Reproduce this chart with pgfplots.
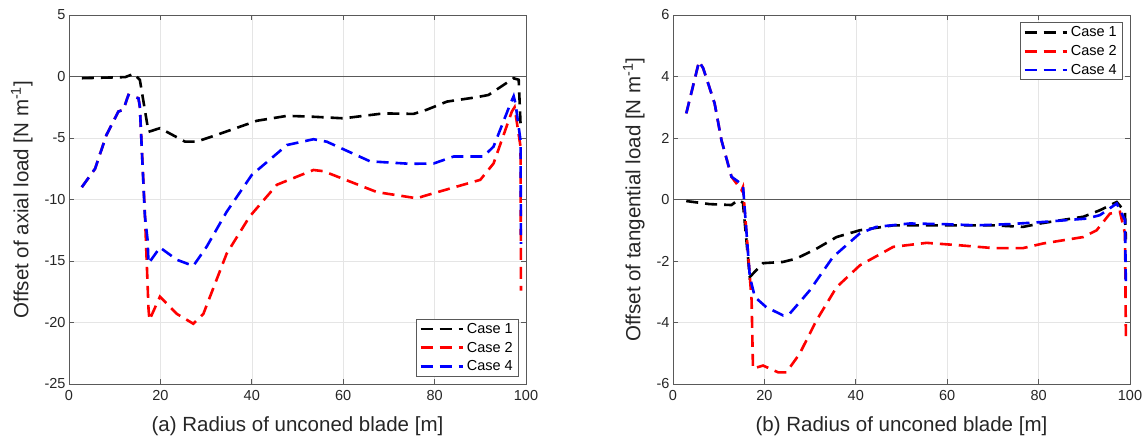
\documentclass[border=0pt]{standalone}
\usepackage{fontspec}
\setmainfont{Liberation Sans}
\usepackage{pgfplots}
\pgfplotsset{compat=1.18}
\begin{document}
\begin{tikzpicture}
\useasboundingbox (0pt,0pt) rectangle (1146pt,437pt);
\pgfplotsset{
 mystyle/.style={
  scale only axis, width=457pt, height=369pt, xmin=0, xmax=100,
  xtick={0,20,...,100}, grid=major,
  major grid style={color=black!10, line width=0.6pt},
  axis line style={color=black!65, line width=0.8pt},
  tick style={color=black!65, line width=0.8pt},
  tick align=inside, major tick length=5pt,
  ticklabel style={font=\fontsize{14.5}{16}\selectfont, text=black!85},
  xticklabel style={yshift=-3pt},
  /pgf/number format/assume math mode=true,
  label style={font=\fontsize{20.5}{24}\selectfont, text=black!85},
  legend style={font=\fontsize{14.5}{16}\selectfont, draw=black!65, line width=0.8pt, row sep=5pt, inner sep=3pt,
    nodes={inner xsep=3pt, inner ysep=1pt}},
  legend cell align=left,
  legend image code/.code={\draw[#1] (0pt,0pt) -- (42pt,0pt);},
  every axis plot/.append style={line width=2.6pt, dash pattern=on 12pt off 7pt},
  xlabel style={yshift=-9pt},
  ylabel shift=5pt,
 }
}
\begin{axis}[mystyle, at={(69pt,53pt)}, anchor=south west,
  ymin=-25, ymax=5, ytick={-25,-20,...,5},
  xlabel={(a) Radius of unconed blade [m]},
  ylabel={Offset of axial load [N m\textsuperscript{-1}]},
  legend style={at={(0.985,0.02)}, anchor=south east}]
\addplot[black!65, line width=0.8pt, solid, forget plot] coordinates {(0,0)(100,0)};
\addplot[black] coordinates {(2.8,-0.14)(12.3,-0.05)(14.2,0.22)(15.5,-0.27)(17.4,-4.5)(19.9,-4.2)(25.4,-5.3)(27.9,-5.3)(32.3,-4.75)(41.1,-3.6)(47.7,-3.2)(52.8,-3.26)(60.1,-3.4)(68.8,-3.0)(75.4,-3.04)(78.3,-2.7)(82.7,-2.04)(89.3,-1.68)(91.8,-1.5)(97.3,-0.14)(98.4,-0.27)(98.8,-3.8)};
\addplot[red] coordinates {(2.8,-9.0)(5.7,-7.5)(8.2,-4.75)(10.8,-2.85)(11.9,-2.7)(13,-1.5)(15.2,-1.77)(15.5,-2.45)(16.6,-11.1)(17.4,-18.9)(17.6,-19.8)(19.9,-17.9)(23.6,-19.3)(27.2,-20.1)(29.4,-19.3)(34.5,-14.4)(39.5,-11.4)(45.5,-8.8)(53.5,-7.6)(55.7,-7.7)(67.4,-9.4)(76.1,-9.9)(78.3,-9.65)(90,-8.4)(92.9,-7.07)(96.9,-2.85)(97.5,-2.5)(98.8,-5.7)(98.9,-17.4)};
\addplot[blue] coordinates {(2.8,-9.0)(5.7,-7.5)(8.2,-4.75)(10.8,-2.85)(11.9,-2.7)(13,-1.5)(15.2,-1.77)(15.5,-2.45)(16.6,-11.3)(17.2,-13.3)(17.4,-15.2)(19.9,-13.9)(23.6,-14.9)(27.2,-15.4)(30.1,-13.85)(34.5,-11.0)(40,-8.0)(47.7,-5.57)(53.5,-5.1)(56.4,-5.3)(65.9,-6.9)(74.7,-7.1)(79.8,-7.07)(84.2,-6.5)(90.7,-6.5)(92.9,-5.7)(96.6,-2.2)(97.3,-1.6)(97.7,-2.2)(98.8,-5.2)(98.9,-13.6)};
\legend{Case 1, Case 2, Case 4}
\end{axis}
\begin{axis}[mystyle, at={(673pt,53pt)}, anchor=south west,
  ymin=-6, ymax=6, ytick={-6,-4,...,6},
  xlabel={(b) Radius of unconed blade [m]},
  ylabel={Offset of tangential load [N m\textsuperscript{-1}]},
  legend style={at={(0.985,0.98)}, anchor=north east}]
\addplot[black!65, line width=0.8pt, solid, forget plot] coordinates {(0,0)(100,0)};
\addplot[black] coordinates {(2.9,-0.05)(8,-0.15)(12.8,-0.18)(14.2,-0.02)(15.3,-0.1)(16.8,-2.52)(19.7,-2.07)(24.1,-2.03)(27,-1.92)(31.4,-1.6)(35.8,-1.22)(40.9,-1.0)(48.2,-0.84)(55.5,-0.84)(62.8,-0.84)(70,-0.84)(76.6,-0.89)(80.3,-0.78)(89.8,-0.56)(93.4,-0.35)(97.1,-0.08)(98.9,-0.4)(99.1,-1.3)};
\addplot[red] coordinates {(2.9,2.8)(4,3.46)(5.7,4.49)(6.6,4.27)(9.1,3.13)(10.6,1.93)(12.8,0.74)(15,0.3)(15.3,0.4)(16.3,-1.5)(17.2,-3.28)(17.5,-5.5)(19.7,-5.4)(23,-5.62)(24.8,-5.62)(27.7,-5.02)(31.4,-3.93)(35.8,-2.85)(40.9,-2.14)(48.2,-1.54)(55.5,-1.41)(62.8,-1.49)(70,-1.58)(76.6,-1.58)(81,-1.43)(89.8,-1.22)(92.7,-1.0)(95.6,-0.46)(97.8,-0.4)(98.9,-1.1)(99.1,-4.48)};
\addplot[blue] coordinates {(2.9,2.8)(4,3.46)(5.7,4.49)(6.6,4.27)(9.1,3.13)(10.6,1.93)(12.8,0.74)(15.3,0.47)(16.8,-2.5)(17.9,-3.17)(20.4,-3.5)(24.1,-3.77)(25.5,-3.72)(29.9,-2.96)(35,-1.87)(40.9,-1.1)(44.5,-0.89)(51.8,-0.78)(59.1,-0.8)(66.4,-0.84)(73.7,-0.8)(81,-0.73)(90.5,-0.62)(93.4,-0.51)(97.1,-0.13)(98.9,-0.67)(99.1,-2.85)};
\legend{Case 1, Case 2, Case 4}
\end{axis}
\end{tikzpicture}
\end{document}
